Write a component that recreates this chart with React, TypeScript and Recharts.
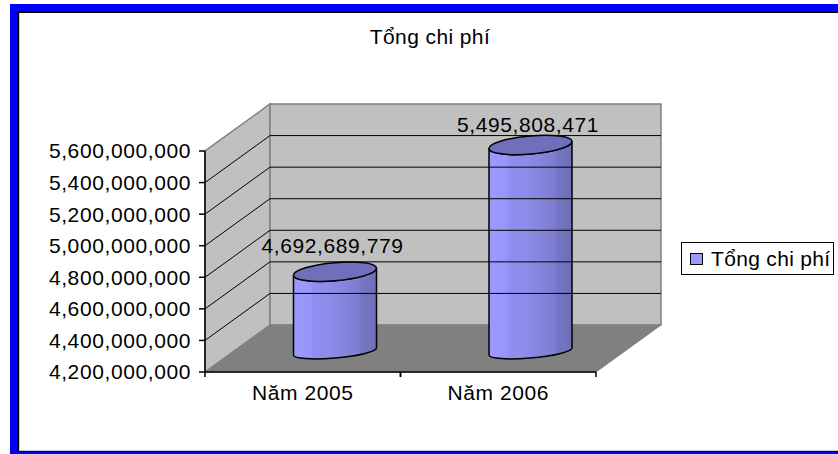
import React from "react";
import { BarChart, Bar, XAxis, YAxis, Legend, LabelList, ReferenceArea, ReferenceLine } from "recharts";

const categories = ["Năm 2005", "Năm 2006"];
const totalCost = [4692689779, 5495808471];
const yTicks = [4200000000, 4400000000, 4600000000, 4800000000, 5000000000, 5200000000, 5400000000, 5600000000];
const seriesName = "Tổng chi phí";
const title = "Tổng chi phí";

const data = categories.map((name, i) => ({ name, cost: totalCost[i] }));

const FONT = "'Liberation Sans', Arial, sans-serif";
const FONT_SIZE = 21;
const SPACING = 0.6;
const DEPTH_X = 65;
const DEPTH_Y = 47;
const BAND = 195.5;
const LABEL_LIFT = [41, 35.5];

const fmt = (v: number) => v.toLocaleString("en-US");

function Walls({ x, y, width, height }: any) {
  const b = y + height;
  const r = x + width;
  const pts = (a: number[][]) => a.map((p) => p.join(",")).join(" ");
  return (
    <g>
      <polygon
        points={pts([[x, b], [x + DEPTH_X, b - DEPTH_Y], [x + DEPTH_X, y - DEPTH_Y], [x, y]])}
        fill="#c0c0c0"
        stroke="#808080"
        strokeWidth={1.5}
      />
      <polygon
        points={pts([[x + DEPTH_X, b - DEPTH_Y], [r + DEPTH_X, b - DEPTH_Y], [r + DEPTH_X, y - DEPTH_Y], [x + DEPTH_X, y - DEPTH_Y]])}
        fill="#c0c0c0"
        stroke="#808080"
        strokeWidth={1.5}
      />
      <polygon
        points={pts([[x, b], [r, b], [r + DEPTH_X, b - DEPTH_Y], [x + DEPTH_X, b - DEPTH_Y]])}
        fill="#808080"
        stroke="#808080"
      />
    </g>
  );
}

function WallLine({ x1, y1, x2, y2, x, y }: any) {
  // ReferenceLine hands over its two ends, the line folds at the back corner
  const lx = x1 ?? x;
  const rx = x2 ?? x;
  const ly = y1 ?? y;
  const d = `M${lx},${ly}L${lx + DEPTH_X},${ly - DEPTH_Y}L${rx + DEPTH_X},${ly - DEPTH_Y}`;
  return <path d={d} fill="none" stroke="#000" strokeWidth={1} />;
}

function Cylinder({ x, y, width, height, index }: any) {
  // the column stands half way into the floor
  const cx = x + width / 2 + DEPTH_X / 2;
  const rx = width / 2;
  const ry = 9;
  const bottomRy = 6.5;
  const tilt = 3.5;
  const top = y - DEPTH_Y / 2 + 1;
  const bottom = y + height - DEPTH_Y / 2 + 3;
  const l = cx - rx;
  const r = cx + rx;
  const gid = `cyl-${index}`;
  const upper = `A${rx},${ry} -5 0 0`;
  const lid = `M${l},${top + tilt}${upper} ${r},${top - tilt}${upper} ${l},${top + tilt}Z`;
  const body = `M${l},${top + tilt}${upper} ${r},${top - tilt}L${r},${bottom - tilt}A${rx},${bottomRy} -5 0 1 ${l},${bottom + tilt}Z`;
  return (
    <g>
      <defs>
        <linearGradient id={gid} x1="0" y1="0" x2="1" y2="0">
          <stop offset="0" stopColor="#9999ff" />
          <stop offset="0.22" stopColor="#9696fa" />
          <stop offset="0.23" stopColor="#9090f0" />
          <stop offset="0.5" stopColor="#8a8ae6" />
          <stop offset="0.62" stopColor="#8484dc" />
          <stop offset="0.8" stopColor="#7c7cd0" />
          <stop offset="0.81" stopColor="#7676c6" />
          <stop offset="1" stopColor="#6e6eb8" />
        </linearGradient>
      </defs>
      <path d={body} fill={`url(#${gid})`} stroke="#000" strokeWidth={1.5} strokeLinejoin="round" />
      <path d={lid} fill="#6f6fbb" stroke="#000" strokeWidth={1.5} />
    </g>
  );
}

function ValueLabel({ x, y, width, value, index }: any) {
  return (
    <text
      x={x + width / 2 + 30}
      y={y - LABEL_LIFT[index]}
      textAnchor="middle"
      fontFamily={FONT}
      fontSize={FONT_SIZE}
      letterSpacing={SPACING}
      fill="#000"
    >
      {fmt(value)}
    </text>
  );
}

function CategoryTick({ x, y, payload }: any) {
  const top = y - 8;
  return (
    <g>
      <line x1={x - BAND / 2} y1={top} x2={x - BAND / 2} y2={top + 5} stroke="#000" strokeWidth={1.5} />
      <line x1={x + BAND / 2} y1={top} x2={x + BAND / 2} y2={top + 5} stroke="#000" strokeWidth={1.5} />
      <text x={x} y={top + 28} textAnchor="middle" fontFamily={FONT} fontSize={FONT_SIZE} letterSpacing={SPACING} fill="#000">
        {payload.value}
      </text>
    </g>
  );
}

function LegendBox() {
  return (
    <div
      style={{
        boxSizing: "border-box",
        width: 153,
        height: 33,
        border: "1px solid #000",
        background: "#fff",
        display: "flex",
        alignItems: "center",
        fontFamily: FONT,
        fontSize: FONT_SIZE,
        letterSpacing: 0.33,
        color: "#000",
        whiteSpace: "nowrap",
      }}
    >
      <span
        style={{
          boxSizing: "border-box",
          display: "inline-block",
          width: 13,
          height: 12,
          margin: "0 8px 0 8px",
          background: "#9999ff",
          border: "1.5px solid #000",
        }}
      />
      {seriesName}
    </div>
  );
}

export default function App() {
  return (
    <div style={{ position: "absolute", left: 0, top: 0, width: 838, height: 454, background: "#fff", overflow: "hidden" }}>
      <div
        style={{
          position: "absolute",
          left: 10,
          top: 4,
          right: -10,
          bottom: 0,
          borderLeft: "7px solid #0000ff",
          borderTop: "7px solid #0000ff",
          borderBottom: "2px solid #0000ff",
        }}
      >
        <div
          style={{
            position: "absolute",
            inset: 0,
            borderLeft: "2px solid #000",
            borderTop: "2px solid #000",
            borderBottom: "1px solid #000",
          }}
        />
        <div
          style={{
            position: "absolute",
            left: 2,
            top: 2,
            right: 0,
            bottom: 1,
            borderLeft: "1px solid #c8c8c8",
            borderBottom: "1px solid #c8c8c8",
          }}
        />
      </div>
      <div
        style={{
          position: "absolute",
          left: 0,
          width: 860,
          top: 25,
          textAlign: "center",
          fontFamily: FONT,
          fontSize: FONT_SIZE,
          letterSpacing: 0.4,
          color: "#000",
        }}
      >
        {title}
      </div>
      <div style={{ position: "absolute", left: 0, top: 0 }}>
        <BarChart width={838} height={454} data={data} margin={{ top: 151, right: 242, bottom: 0, left: 0 }}>
          <ReferenceArea y1={yTicks[0]} y2={yTicks[yTicks.length - 1]} shape={<Walls />} ifOverflow="visible" fill="none" stroke="none" />
          {yTicks.slice(1, -1).map((t) => (
            <ReferenceLine key={t} y={t} ifOverflow="visible" shape={<WallLine />} />
          ))}
          <XAxis
            dataKey="name"
            height={82}
            axisLine={{ stroke: "#000", strokeWidth: 1.5 }}
            tickLine={false}
            tick={<CategoryTick />}
            interval={0}
          />
          <YAxis
            width={205}
            domain={[yTicks[0], yTicks[yTicks.length - 1]]}
            ticks={yTicks}
            interval={0}
            tickFormatter={fmt}
            axisLine={{ stroke: "#000", strokeWidth: 1.5 }}
            tickLine={{ stroke: "#000", strokeWidth: 1.5 }}
            tickSize={6}
            tickMargin={8}
            tick={{ fill: "#000", fontFamily: FONT, fontSize: FONT_SIZE, letterSpacing: SPACING }}
          />
          <Legend
            layout="horizontal"
            align="center"
            verticalAlign="middle"
            wrapperStyle={{ position: "absolute", left: 681, top: 242, width: 153, height: 33 }}
            content={<LegendBox />}
          />
          <Bar dataKey="cost" name={seriesName} fill="#9999ff" barSize={83} shape={<Cylinder />} isAnimationActive={false}>
            <LabelList dataKey="cost" content={<ValueLabel />} />
          </Bar>
        </BarChart>
      </div>
    </div>
  );
}
